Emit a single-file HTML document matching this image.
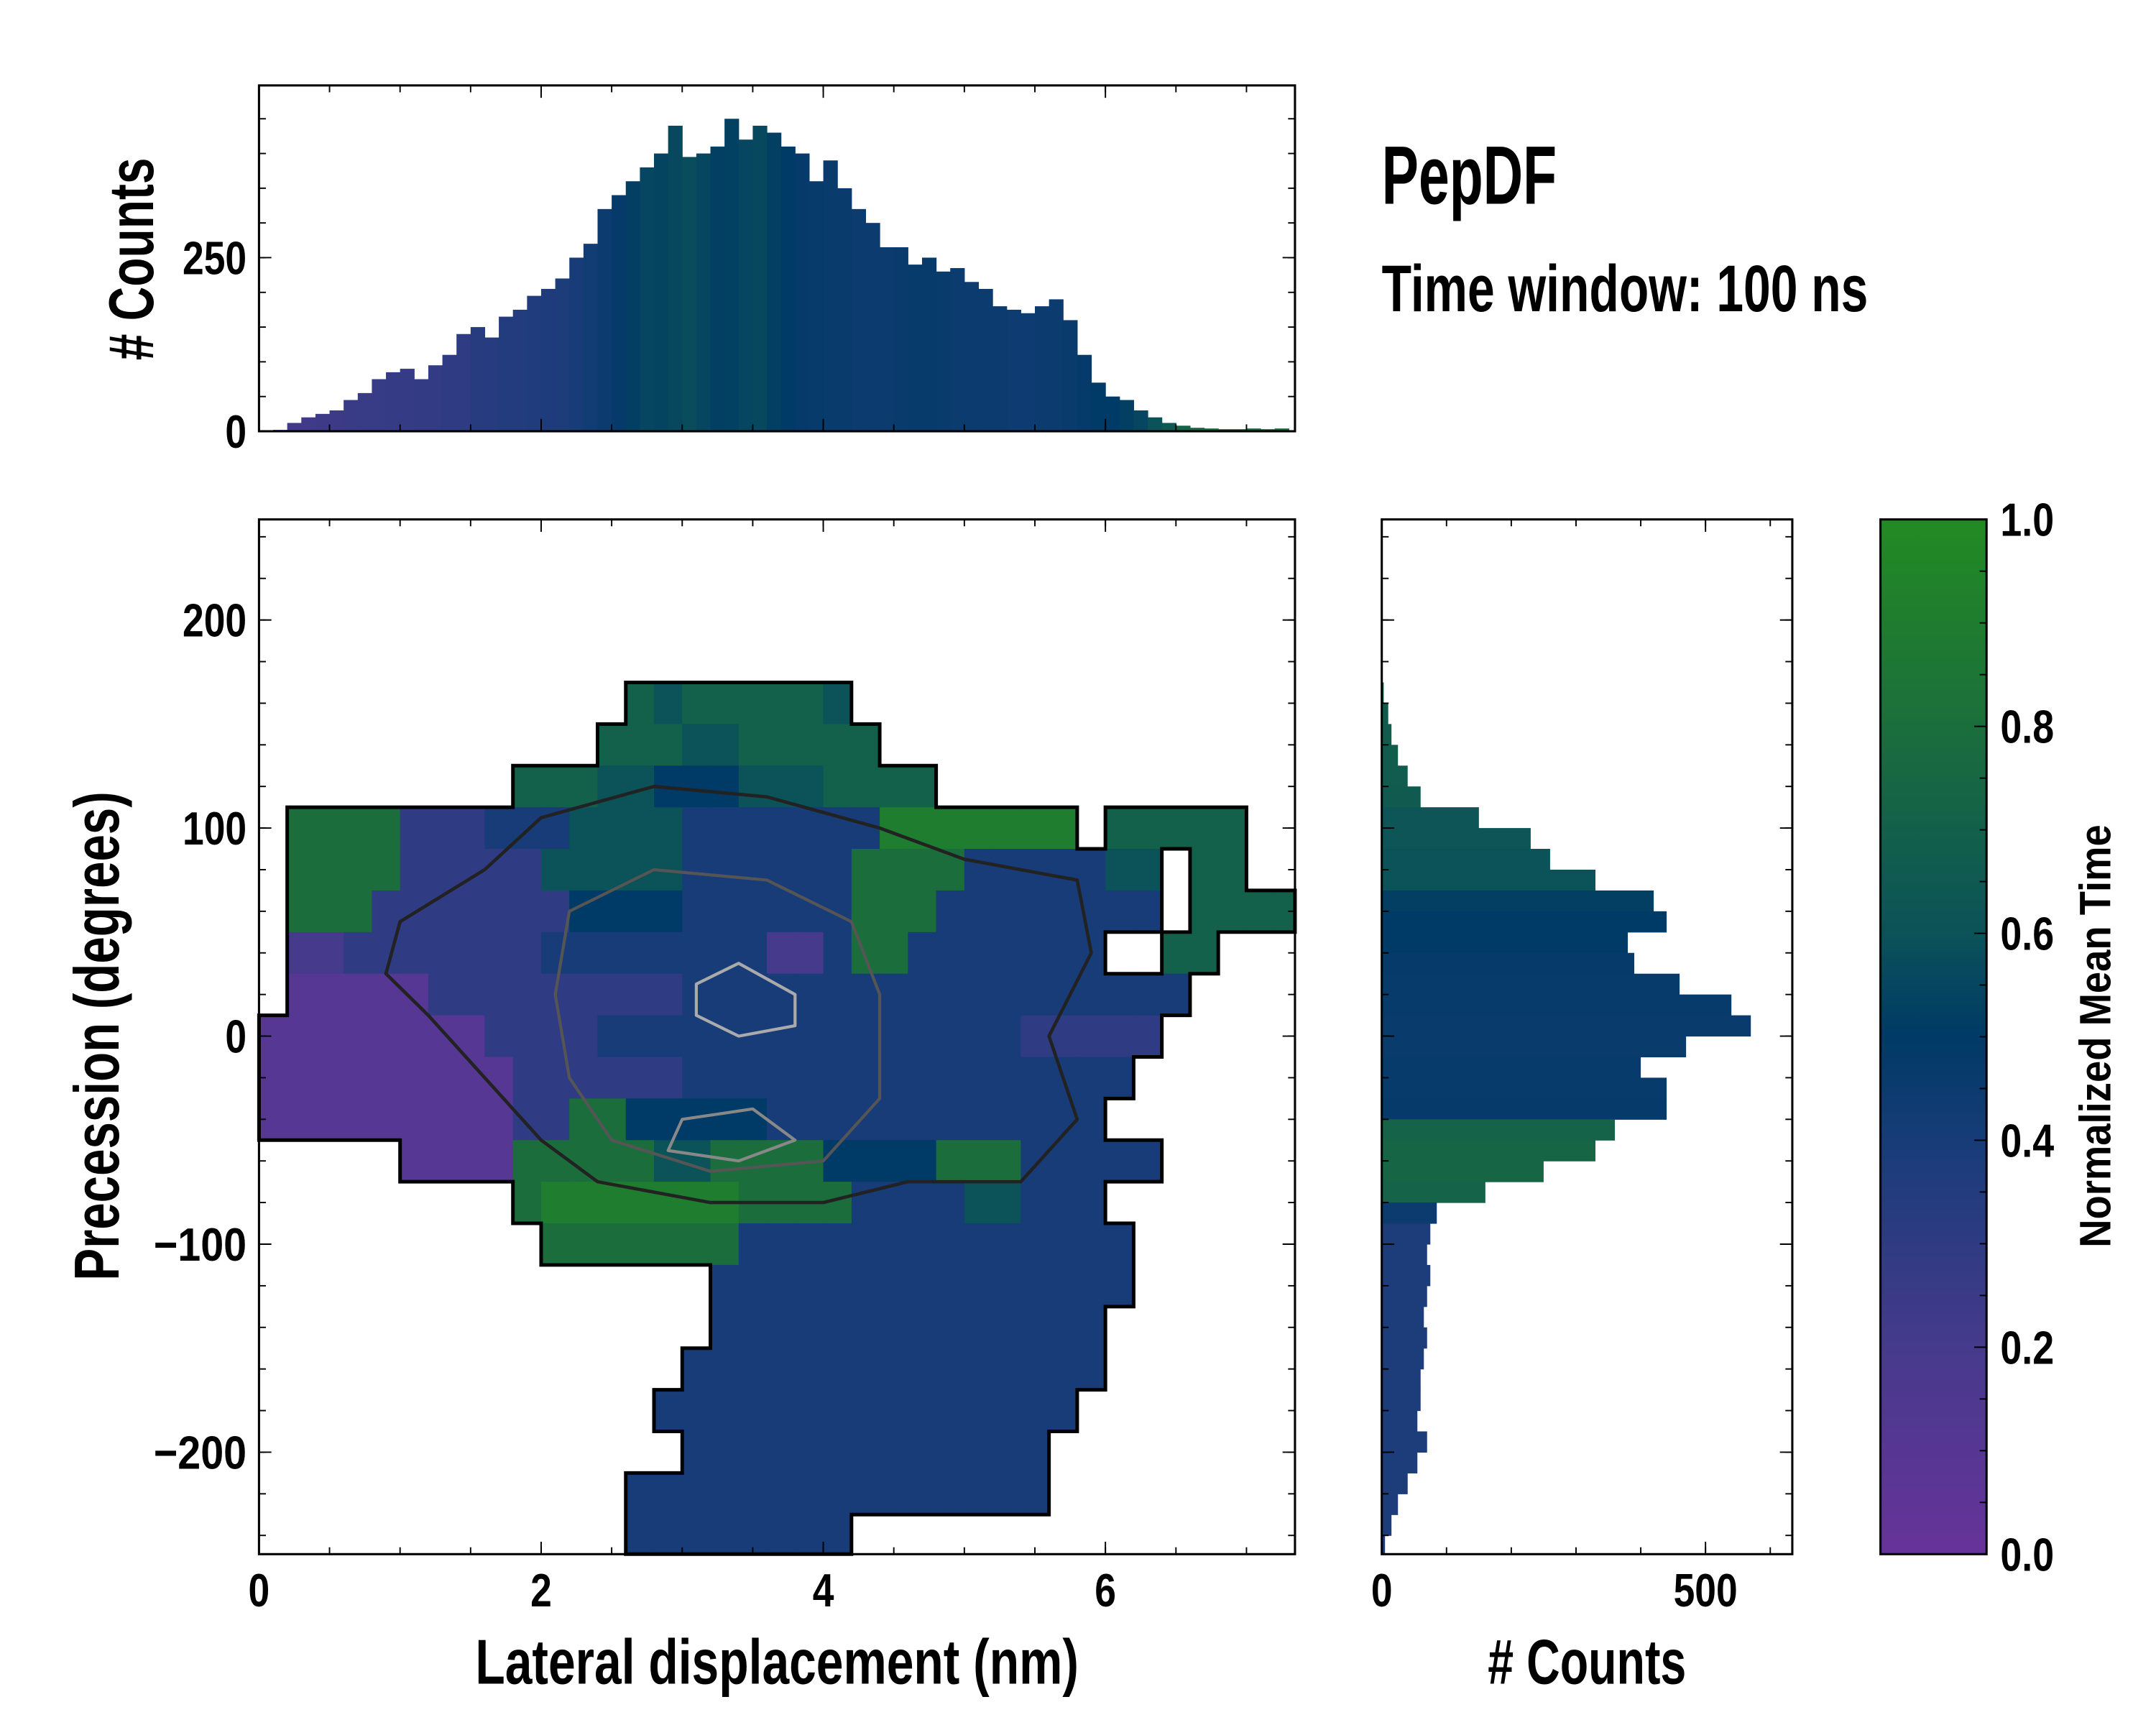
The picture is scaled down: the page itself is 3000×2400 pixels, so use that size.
<!DOCTYPE html>
<html><head><meta charset="utf-8"><style>
html,body{margin:0;padding:0;background:#fff;}
svg{display:block;}
text{font-family:"Liberation Sans Narrow","Liberation Sans",sans-serif;font-weight:bold;fill:#000;}
</style></head><body>
<svg id="fig" xmlns="http://www.w3.org/2000/svg" width="3000" height="2400" viewBox="0 0 1565 1252">
<rect width="1565" height="1252" fill="#fff"/>
<g id="heat"></g>
<g id="contours"></g>
<path id="outline" fill="none" stroke="#000" stroke-width="2.6" stroke-linecap="square"/>
<g id="tophist"></g>
<g id="righthist"></g>
<g id="cbar"></g>
<g id="axes"></g>
<text x="1003" y="148" font-size="60" textLength="127" lengthAdjust="spacingAndGlyphs">PepDF</text>
<text x="1003" y="226" font-size="48" textLength="353" lengthAdjust="spacingAndGlyphs">Time window: 100 ns</text>
<text x="564" y="1222" font-size="46" text-anchor="middle" textLength="438" lengthAdjust="spacingAndGlyphs">Lateral displacement (nm)</text>
<text x="1152" y="1222" font-size="46" text-anchor="middle" textLength="144" lengthAdjust="spacingAndGlyphs"># Counts</text>
<text transform="translate(86,752) rotate(-90)" font-size="46" text-anchor="middle" textLength="355" lengthAdjust="spacingAndGlyphs">Precession (degrees)</text>
<text transform="translate(111,188) rotate(-90)" font-size="46" text-anchor="middle" textLength="147" lengthAdjust="spacingAndGlyphs"># Counts</text>
<text transform="translate(1532,752) rotate(-90)" font-size="32" text-anchor="middle" textLength="307" lengthAdjust="spacingAndGlyphs">Normalized Mean Time</text>
</svg>
<script>
// ---- data ----
const heatRows = [
".....................................",
".....................................",
".....................................",
".....................................",
".............76777776................",
"............7776677777...............",
".........777665556667777.............",
".8888333444666644444449999999.77777.",
".88883333366666444444888844444 66.77..".replace(' ',''),
".8883333333555544444488844444444.7777",
".22333333344444444224884444444..77..",
".11111333333333444444444444444444.....",
"11111111333344444444444444433333......",
"1111111113333334444444444444444.......",
"111111111338855555444444444444.......",
".....111188888668888555588844444......",
".........89999999888844446644 4.......".replace(' ',''),
"..........888888844444444444444......",
"................444444444444444......",
"................44444444444444.......",
"...............444444444444444.......",
"..............444444444444444........",
"...............4444444444444.........",
".............444444444444444.........",
".............44444444................"
];
const topCounts = [0,2,12,20,25,30,45,55,75,85,90,75,95,110,140,150,135,165,175,195,205,220,250,270,320,340,360,380,400,440,395,400,410,450,420,440,430,410,400,360,390,350,320,300,265,265,240,250,230,235,215,205,180,175,170,180,190,160,110,70,50,45,30,20,12,8,5,4,3,3,4,3,4];
const topTimes  = [0.22,0.22,0.22,0.22,0.24,0.24,0.25,0.26,0.26,0.27,0.27,0.28,0.28,0.3,0.3,0.33,0.33,0.35,0.35,0.36,0.37,0.38,0.4,0.42,0.45,0.48,0.52,0.55,0.54,0.56,0.58,0.55,0.52,0.53,0.55,0.56,0.52,0.5,0.48,0.47,0.46,0.46,0.45,0.45,0.45,0.46,0.47,0.47,0.46,0.45,0.45,0.45,0.45,0.44,0.44,0.45,0.45,0.46,0.48,0.5,0.5,0.52,0.55,0.6,0.65,0.72,0.75,0.78,0.78,0.78,0.78,0.78,0.78];
const rightCounts = [0,0,0,0,0,0,0,0,3,10,15,25,40,60,150,230,260,330,420,440,380,390,460,540,570,470,400,440,440,360,330,250,160,85,75,70,75,70,65,70,65,60,60,55,70,55,40,25,15,5];
const rightTimes  = [0.68,0.68,0.68,0.68,0.68,0.68,0.68,0.68,0.68,0.68,0.68,0.68,0.67,0.66,0.62,0.62,0.6,0.6,0.52,0.5,0.5,0.48,0.47,0.47,0.46,0.46,0.47,0.47,0.48,0.72,0.74,0.74,0.72,0.45,0.38,0.38,0.38,0.38,0.38,0.38,0.38,0.38,0.38,0.38,0.38,0.38,0.38,0.38,0.38,0.38];
const contourOuterX = [1.0,1.6,2.0,2.8,3.6,4.4,5.0,5.8,5.9,5.6,5.8,5.4,4.6,4.0,3.2,2.4,2.0,1.6,1.2,0.9];
const contourOuterY = [55,80,105,120,115,100,85,75,40,0,-40,-70,-70,-80,-80,-70,-50,-20,10,30];
const contourMidX = [2.2,2.8,3.6,4.2,4.4,4.4,4.0,3.2,2.5,2.2,2.1];
const contourMidY = [60,80,75,55,20,-30,-60,-65,-50,-20,20];
const contourInnerAX = [3.1,3.4,3.8,3.8,3.4,3.1];
const contourInnerAY = [25,35,20,5,0,10];
const contourInnerBX = [3.0,3.5,3.8,3.4,2.9];
const contourInnerBY = [-40,-35,-50,-60,-55];
const xTicks = [0,2,4,6];
const yTicks = [200,100,0,-100,-200];
const yTickLabels = ["200","100","0","\u2212100","\u2212200"];
const topYTicks = [0,250];
const rightXTicks = [0,500];
const cbTicks = [0,0.2,0.4,0.6,0.8,1.0];
const cbTickLabels = ["0.0","0.2","0.4","0.6","0.8","1.0"];
// ---- scales ----
const X0=188,X1=940,Y0=377,Y1=1128;
const xS = x => X0 + x*102.4;
const yS = y => 752 - y*1.51;
const yT = c => 313 - c*0.504;
const xR = c => 1003 + c*0.47;
const cbY = v => Y1 - v*751;
const cellW = 0.2, cellH = 20, yTop = 250, binTop = 0.1, binRight = 10;
const stops=[[0,[0x66,0x33,0x9a]],[0.2,[0x46,0x3a,0x8c]],[0.4,[0x17,0x3c,0x78]],[0.5,[0x00,0x3a,0x66]],[0.6,[0x0b,0x52,0x59]],[0.8,[0x1b,0x6e,0x3c]],[1,[0x22,0x8b,0x22]]];
function cmap(v){v=Math.max(0,Math.min(1,v));for(let i=1;i<stops.length;i++){if(v<=stops[i][0]){const a=stops[i-1],b=stops[i],t=(v-a[0])/(b[0]-a[0]);const c=a[1].map((q,k)=>Math.round(q+(b[1][k]-q)*t));return `rgb(${c[0]},${c[1]},${c[2]})`;}}return 'rgb(34,139,34)';}
const NS='http://www.w3.org/2000/svg';
function mk(tag,attrs,parent){const e=document.createElementNS(NS,tag);for(const k in attrs)e.setAttribute(k,attrs[k]);parent.appendChild(e);return e;}
const grid = heatRows.map(r => (r + '.'.repeat(37)).slice(0,37));
// ---- heatmap ----
const heat=document.getElementById('heat');
let outline='';
const filled=(r,c)=>r>=0&&r<grid.length&&c>=0&&c<37&&grid[r][c]!=='.';
grid.forEach((row,r)=>{for(let c=0;c<37;c++){const ch=row[c];if(ch==='.')continue;
 const v=parseInt(ch,10)/10;
 const xa=xS(c*cellW), xb=Math.min(xS((c+1)*cellW),X1), ya=yS(yTop-r*cellH), yb=Math.min(yS(yTop-(r+1)*cellH),Y1);
 if(xa>=X1) continue;
 const el=mk('rect',{x:xa,y:ya,width:xb-xa+0.4,height:yb-ya+0.4,fill:cmap(v)},heat);
 
 
 if(!filled(r-1,c)) outline+=`M${xa},${ya}H${xb}`;
 if(!filled(r+1,c)) outline+=`M${xa},${yb}H${xb}`;
 if(!filled(r,c-1)) outline+=`M${xa},${ya}V${yb}`;
 if(!filled(r,c+1)) outline+=`M${xb},${ya}V${yb}`;
}});
document.getElementById('outline').setAttribute('d',outline);
// ---- contours ----
const cg=document.getElementById('contours');
function contour(xs,ys,color,w){const pts=xs.map((x,i)=>xS(x)+','+yS(ys[i])).join(' ');
 const el=mk('polygon',{points:pts,fill:'none',stroke:color,'stroke-width':w,'stroke-linejoin':'round'},cg);
 
 }
contour(contourOuterX,contourOuterY,'#222',2.4);
contour(contourMidX,contourMidY,'#555',2.2);
contour(contourInnerAX,contourInnerAY,'#aaa',2.2);
contour(contourInnerBX,contourInnerBY,'#888',2.2);
// ---- top histogram ----
const th=document.getElementById('tophist');
topCounts.forEach((n,i)=>{const xa=xS(i*binTop),xb=Math.min(xS((i+1)*binTop),X1);if(n<=0)return;
 const el=mk('rect',{x:xa,y:yT(n),width:xb-xa+0.3,height:yT(0)-yT(n),fill:cmap(topTimes[i])},th);
 
 });
// ---- right histogram ----
const rh=document.getElementById('righthist');
rightCounts.forEach((n,i)=>{if(n<=0)return;const ya=yS(250-i*binRight),yb=Math.min(yS(250-(i+1)*binRight),Y1);
 const el=mk('rect',{x:xR(0),y:ya,width:xR(n)-xR(0),height:yb-ya+0.3,fill:cmap(rightTimes[i])},rh);
 
 });
// ---- colorbar ----
const cb=document.getElementById('cbar');
const gr=mk('linearGradient',{id:'cbg',x1:0,y1:1,x2:0,y2:0},mk('defs',{},cb));
stops.forEach(s=>mk('stop',{offset:s[0],'stop-color':`rgb(${s[1].join(',')})`},gr));
mk('rect',{x:1365,y:Y0,width:77,height:Y1-Y0,fill:'url(#cbg)',stroke:'#000','stroke-width':1.6},cb);
for(let k=0;k<=20;k++){const v=k/20,maj=k%4===0;mk('line',{x1:1442,x2:1442-(maj?9:5),y1:cbY(v),y2:cbY(v),stroke:'#000','stroke-width':1},cb);}
function tlen(s){let w=0;for(const ch of s){w+= ch==='\u2212'?21:(ch==='.'?8:15.5);}return w;}
cbTicks.forEach((v,i)=>{const t=mk('text',{x:1452,y:cbY(v)+12,'font-size':34,textLength:tlen(cbTickLabels[i]),lengthAdjust:'spacingAndGlyphs'},cb);t.textContent=cbTickLabels[i];
 
 });
// ---- axes ----
const ax=document.getElementById('axes');
function frame(x0,y0,x1,y1){mk('rect',{x:x0,y:y0,width:x1-x0,height:y1-y0,fill:'none',stroke:'#000','stroke-width':1.6},ax);}
function ticksX(sc,vals,y0,y1,len){vals.forEach(v=>{const x=sc(v);mk('line',{x1:x,x2:x,y1:y1,y2:y1-len,stroke:'#000','stroke-width':1},ax);mk('line',{x1:x,x2:x,y1:y0,y2:y0+len,stroke:'#000','stroke-width':1},ax);});}
function ticksY(sc,vals,x0,x1,len){vals.forEach(v=>{const y=sc(v);mk('line',{x1:x0,x2:x0+len,y1:y,y2:y,stroke:'#000','stroke-width':1},ax);mk('line',{x1:x1,x2:x1-len,y1:y,y2:y,stroke:'#000','stroke-width':1},ax);});}
const range=(a,b,s)=>{const o=[];for(let v=a;v<=b+1e-9;v+=s)o.push(+v.toFixed(4));return o;};
frame(X0,Y0,X1,Y1);
ticksX(xS,range(0,7,0.5),Y0,Y1,5);ticksX(xS,xTicks,Y0,Y1,9);
ticksY(yS,range(-240,240,20),X0,X1,5);ticksY(yS,yTicks,X0,X1,9);
frame(X0,62,X1,313);
ticksX(xS,range(0,7,0.5),62,313,5);ticksX(xS,xTicks,62,313,9);
ticksY(yT,range(0,450,50),X0,X1,5);ticksY(yT,topYTicks,X0,X1,9);
frame(1003,Y0,1301,Y1);
ticksX(xR,range(0,600,100),Y0,Y1,5);ticksX(xR,rightXTicks,Y0,Y1,9);
ticksY(yS,range(-240,240,20),1003,1301,5);ticksY(yS,yTicks,1003,1301,9);
function label(x,y,txt,anchor,name){const t=mk('text',{x:x,y:y,'font-size':34,'text-anchor':anchor,textLength:tlen(txt),lengthAdjust:'spacingAndGlyphs'},ax);t.textContent=txt;
 
 }
xTicks.forEach(v=>label(xS(v),1166,String(v),'middle','x-tick-label'));
yTicks.forEach((v,i)=>label(179,yS(v)+12,yTickLabels[i],'end','y-tick-label'));
topYTicks.forEach(v=>label(179,yT(v)+12,String(v),'end','top-hist-y-tick-label'));
rightXTicks.forEach(v=>label(xR(v),1166,String(v),'middle','right-hist-x-tick-label'));
</script>
</body></html>
